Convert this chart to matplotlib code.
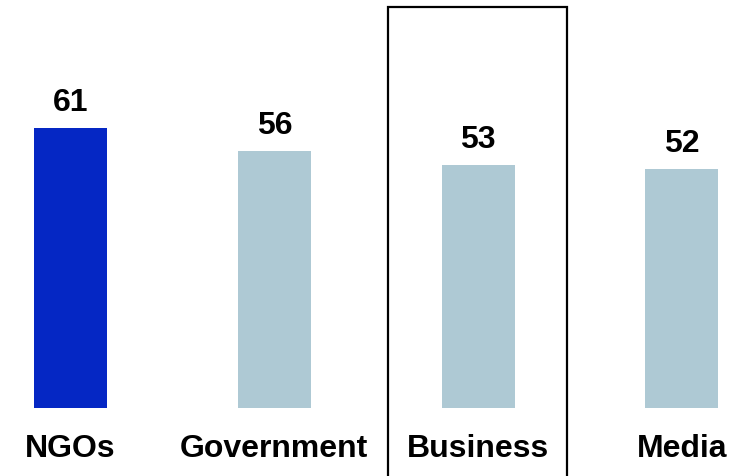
import matplotlib
matplotlib.use("Agg")
import matplotlib.pyplot as plt
from matplotlib.patches import Rectangle

categories = ["NGOs", "Government", "Business", "Media"]
values = [61, 56, 53, 52]
colors = ["#0527C4", "#AEC9D4", "#AEC9D4", "#AEC9D4"]
highlight = "Business"

plt.rcParams['font.family'] = ['Liberation Sans', 'DejaVu Sans']

fig = plt.figure(figsize=(7.47, 4.77), dpi=100)
ax = fig.add_axes([0, 0, 1, 1])
x = list(range(len(categories)))
ax.bar(x, values, width=0.358, color=colors)
ax.set_xlim(-0.346, 3.319)
ax.set_ylim(-14.8, 89.1)
ax.axis('off')

for xi, v in zip(x, values):
    ax.text(xi, v + 5.7, str(v), ha='center', va='center', fontsize=23, fontweight='bold')
for xi, c in zip(x, categories):
    ax.text(xi, -8.6, c, ha='center', va='center', fontsize=23, fontweight='bold')

hi = categories.index(highlight)
rect = Rectangle((hi - 0.442, -20), 0.878, 87.3 + 20, fill=False, edgecolor='black',
                 linewidth=1.6, clip_on=False)
ax.add_patch(rect)

fig.savefig("out.png", dpi=100)
